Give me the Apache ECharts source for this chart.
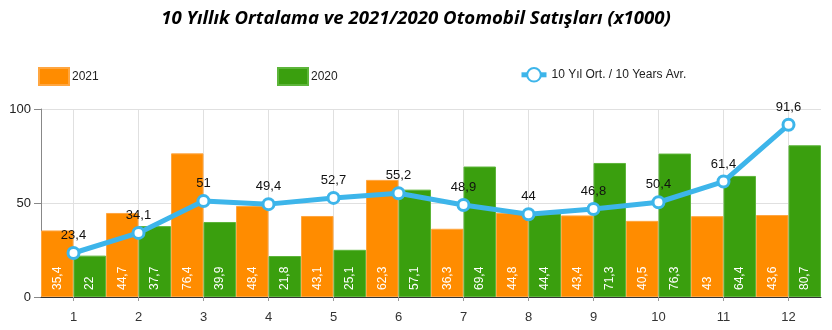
<!DOCTYPE html>
<html><head><meta charset="utf-8">
<script src="https://cdn.jsdelivr.net/npm/echarts@6/dist/echarts.min.js"></script>
<style>html,body{margin:0;padding:0;background:#fff}#c{width:832px;height:330px}</style>
</head><body><div id="c"></div>
<script>
var categories = ['1','2','3','4','5','6','7','8','9','10','11','12'];
var s2021 = [35.4, 44.7, 76.4, 48.4, 43.1, 62.3, 36.3, 44.8, 43.4, 40.5, 43, 43.6];
var s2020 = [22, 37.7, 39.9, 21.8, 25.1, 57.1, 69.4, 44.4, 71.3, 76.3, 64.4, 80.7];
var avg10 = [23.4, 34.1, 51, 49.4, 52.7, 55.2, 48.9, 44, 46.8, 50.4, 61.4, 91.6];
var yTicks = [0, 50, 100];

var comma = function (p) { return String(p.value).replace('.', ','); };
var FONT = 'Liberation Sans, Arial, sans-serif';
var gridHelper = [];
for (var i = 0; i <= 24; i++) gridHelper.push(String(i));

var chart = echarts.init(document.getElementById('c'), null, {renderer: 'canvas'});
chart.setOption({
  animation: false,
  textStyle: {fontFamily: FONT},
  title: {
    text: '10 Yıllık Ortalama ve 2021/2020 Otomobil Satışları (x1000)',
    left: 'center', top: 4,
    textStyle: {fontFamily: 'Open Sans, sans-serif', fontStyle: 'italic', fontWeight: 'bold', fontSize: 18.6, color: '#000'}
  },
  legend: [
    {data: [{name: '2021', icon: 'rect'}], left: 33, top: 62, itemWidth: 30, itemHeight: 17, itemGap: 4, textStyle: {fontSize: 12, color: '#222', padding: [0,0,0,-2]}},
    {data: [{name: '2020', icon: 'rect'}], left: 272, top: 62, itemWidth: 30, itemHeight: 17, textStyle: {fontSize: 12, color: '#222', padding: [0,0,0,-2]}},
    {data: ['10 Yıl Ort. / 10 Years Avr.'], left: 514, top: 62, itemWidth: 25, itemHeight: 17, lineStyle: {width: 5}, textStyle: {fontSize: 12, color: '#222', padding: [0,0,0,0]}}
  ],
  grid: {left: 41, right: 11, top: 109, bottom: 33},
  xAxis: [{
    type: 'category', data: categories,
    axisLine: {show: true, lineStyle: {color: '#333', width: 1}},
    axisTick: {show: true, alignWithLabel: true, length: 4, lineStyle: {color: '#999'}},
    axisLabel: {color: '#333', fontSize: 13, margin: 14},
    splitLine: {show: false}, z: 5
  }, {
    type: 'category', data: gridHelper, boundaryGap: false, position: 'bottom',
    axisLine: {show: false}, axisTick: {show: false}, axisLabel: {show: false},
    splitLine: {show: true, interval: function (idx) { return idx % 2 === 1; }, lineStyle: {color: '#e0e0e0', width: 1}}
  }],
  yAxis: {
    type: 'value', min: yTicks[0], max: yTicks[yTicks.length - 1], interval: 50,
    axisLine: {show: true, lineStyle: {color: '#888'}},
    axisTick: {show: true, length: 7, lineStyle: {color: '#888'}},
    axisLabel: {color: '#222', fontSize: 13, margin: 10},
    splitLine: {show: true, lineStyle: {color: '#e0e0e0'}}
  },
  series: [{
    name: '2021', type: 'bar', data: s2021, barGap: '0%', barCategoryGap: '0%',
    itemStyle: {color: '#FF8C00', borderColor: '#FFA640', borderWidth: 1},
    label: {show: true, position: 'insideBottom', rotate: 90, distance: 7, align: 'left', verticalAlign: 'middle', color: '#fff', fontSize: 12, formatter: comma}
  }, {
    name: '2020', type: 'bar', data: s2020,
    itemStyle: {color: '#3A9F0E', borderColor: '#5DB53A', borderWidth: 1},
    label: {show: true, position: 'insideBottom', rotate: 90, distance: 7, align: 'left', verticalAlign: 'middle', color: '#fff', fontSize: 12, formatter: comma}
  }, {
    name: '10 Yıl Ort. / 10 Years Avr.', type: 'line', data: avg10, z: 10,
    lineStyle: {color: '#3DB5EA', width: 5},
    symbol: 'circle', symbolSize: 11,
    itemStyle: {color: '#fff', borderColor: '#3DB5EA', borderWidth: 3},
    label: {show: true, position: 'top', distance: 4, color: '#111', fontSize: 13, formatter: comma}
  }]
});
</script></body></html>
